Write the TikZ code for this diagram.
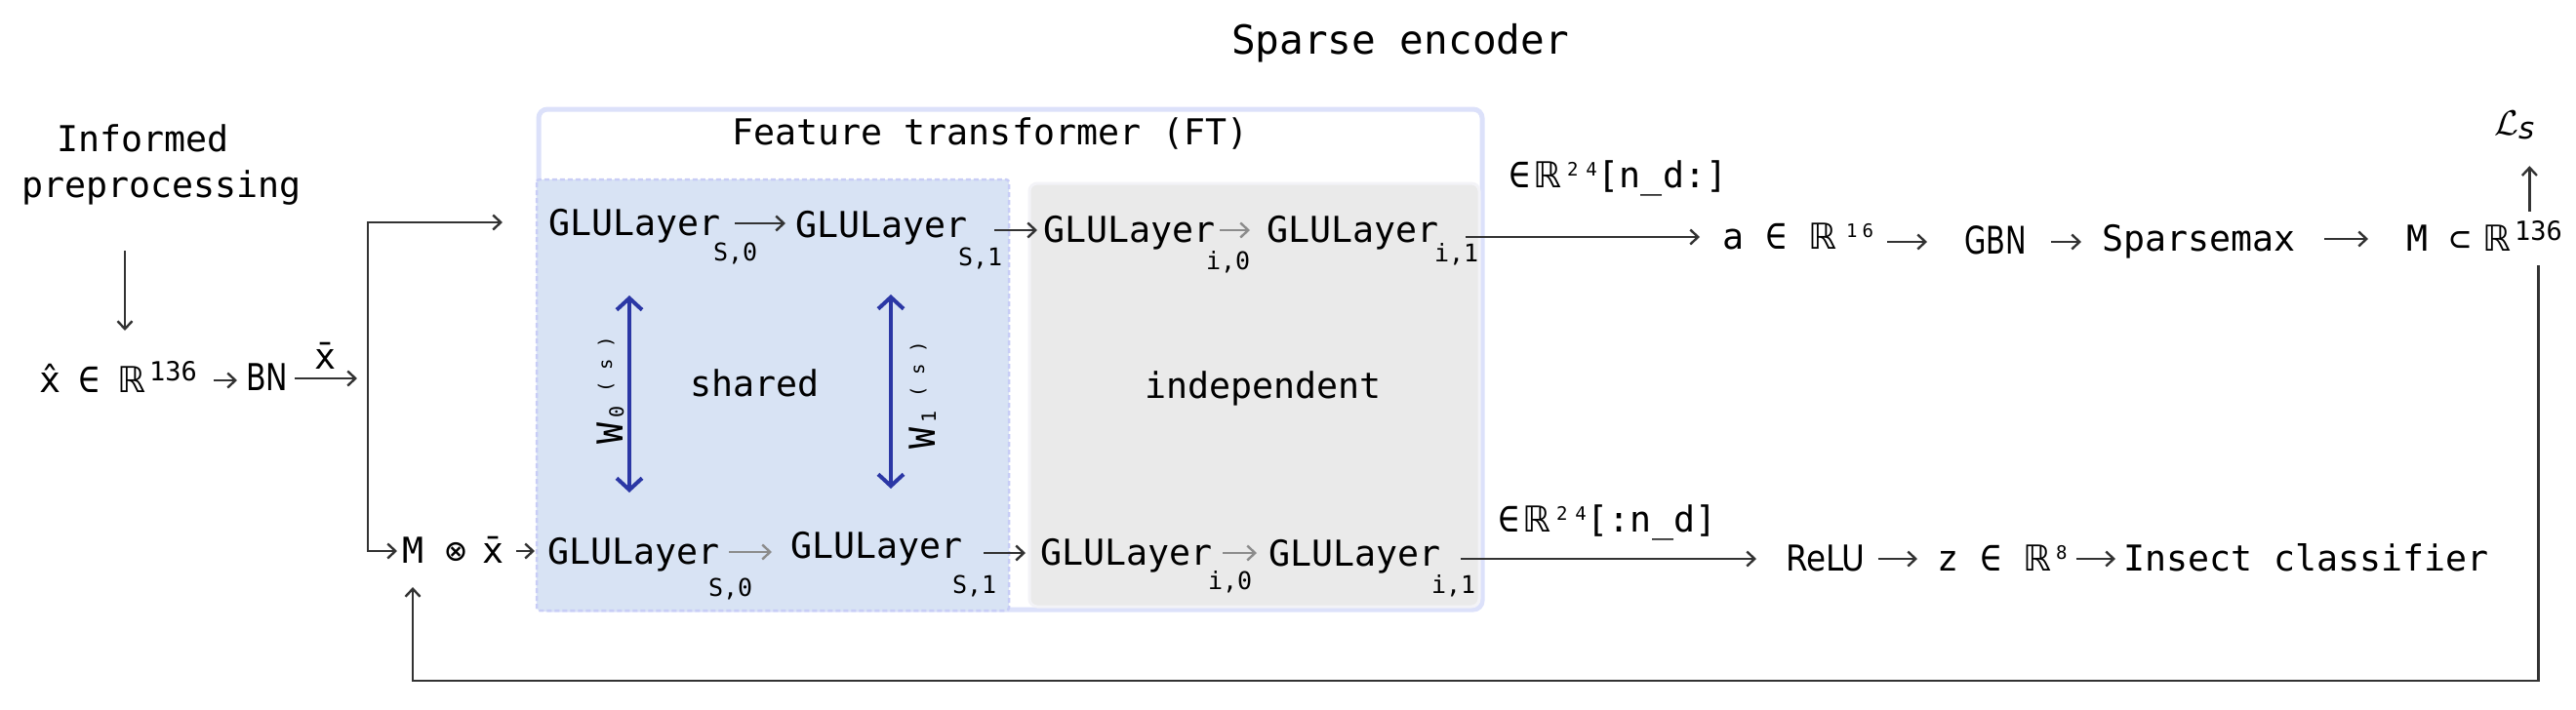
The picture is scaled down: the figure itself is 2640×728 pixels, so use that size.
\documentclass[tikz,border=0pt]{standalone}
\usepackage{fontspec}
\usepackage{graphicx}
\setmainfont{DejaVu Sans Mono}
\newfontfamily\dvs{DejaVu Sans}
\usetikzlibrary{arrows.meta}
\definecolor{ink}{HTML}{333333}
\definecolor{grarr}{HTML}{8C8C8C}
\definecolor{wblue}{HTML}{2B37A5}
\definecolor{ftb}{HTML}{DCE1FA}
\definecolor{shf}{HTML}{D8E3F4}
\definecolor{shb}{HTML}{C8CDF6}
\definecolor{inf}{HTML}{EAEAEA}
\definecolor{inb}{HTML}{F3F3F7}
\newcommand\fm{\fontsize{36.6}{40}\selectfont}
\newcommand\fsub{\fontsize{25}{27}\selectfont}
\newcommand\dsR{{\dvs ℝ}}
\newcommand\supd[2]{\raisebox{#1}{\fontsize{19}{19}\selectfont #2}}
\newcommand\wlab[1]{W\hspace{5pt}\raisebox{-1pt}{\fontsize{20}{20}\selectfont #1}\hspace{8pt}\raisebox{11pt}{\fontsize{19}{19}\selectfont\makebox[23pt]{(}\makebox[23pt]{s}\makebox[23pt]{)}}}
\begin{document}
\begin{tikzpicture}[x=1pt,y=-1pt,
  t/.style={inner sep=0pt, outer sep=0pt, anchor=base west, text height=27pt, text depth=3pt, font=\fm, text=black},
  sb/.style={inner sep=0pt, outer sep=0pt, anchor=base west, font=\fsub, text=black},
  arr/.style={draw=ink, line width=2.4pt, -{Straight Barb[length=8pt,width=15pt]}},
  garr/.style={arr, draw=grarr},
  warr/.style={draw=wblue, line width=4pt, {Straight Barb[length=12pt,width=26pt]}-{Straight Barb[length=12pt,width=26pt]}}]
\useasboundingbox (0,0) rectangle (2640,728);
% containers
\draw[ftb, line width=5pt, rounded corners=9pt, fill=white] (552,112) rectangle (1519,625);
\draw[shb, line width=2.5pt, dash pattern=on 5pt off 3pt, fill=shf, rounded corners=3pt] (550,184) rectangle (1034,626);
\draw[inb, line width=3pt, fill=inf, rounded corners=8pt] (1055,188) rectangle (1516,622);
% titles
\node[t, anchor=base, font=\fontsize{41}{44}\selectfont] (title) at (1435,55) {Sparse encoder};
\node[t, anchor=base] (ft) at (1015,148) {Feature transformer (FT)};
\node[t] (sh) at (707,406) {shared};
\node[t] (ind) at (1173,408) {independent};
% left part
\node[t] (inf) at (58,155) {Informed};
\node[t] (pre) at (22,202) {preprocessing};
\node[t] (xin) at (40,402) {\^{x}\hspace{18pt}∈\hspace{18pt}\dsR\hspace{4pt}\raisebox{12pt}{\fontsize{27}{27}\selectfont 136}};
\node[t] (bn) at (252,400) {\dvs\fontsize{38}{40}\selectfont\scalebox{0.79}[1]{BN}};
\node[t, anchor=base] (xb) at (334,378) {\={x}};
\node[t] (mm) at (412,577) {M};
\node[t] (mx) at (456,577) {⊗\hspace{16pt}\={x}};
\coordinate (ax) at (128,0);
\coordinate (jt) at (377,228);
\coordinate (jb) at (377,565);
\coordinate (fbl) at (0,698);
% GLU layers
\node[t] (g11) at (562,241) {GLULayer}; \node[sb] (s11) at (731,267) {S,0};
\node[t] (g12) at (815,243) {GLULayer}; \node[sb] (s12) at (982,272) {S,1};
\node[t] (g13) at (1069,248) {GLULayer}; \node[sb] (s13) at (1236,276) {i,0};
\node[t] (g14) at (1298,248) {GLULayer}; \node[sb] (s14) at (1470,268) {i,1};
\node[t] (g21) at (561,578) {GLULayer}; \node[sb] (s21) at (726,611) {S,0};
\node[t] (g22) at (810,572) {GLULayer}; \node[sb] (s22) at (976,608) {S,1};
\node[t] (g23) at (1066,579) {GLULayer}; \node[sb] (s23) at (1238,604) {i,0};
\node[t] (g24) at (1300,580) {GLULayer}; \node[sb] (s24) at (1467,608) {i,1};
% shared weights
\coordinate (w0t) at (645,303); \coordinate (w0b) at (645,505);
\coordinate (w1t) at (913,302); \coordinate (w1b) at (913,501);
\draw[warr] (w0t) -- (w0b);
\draw[warr] (w1t) -- (w1b);
\node[inner sep=0pt, rotate=90, anchor=base, font=\fm] (w0) at (638,397) {\wlab{0}};
\node[inner sep=0pt, rotate=90, anchor=base, font=\fm] (w1) at (958,402) {\wlab{1}};
% right part
\node[t] (lab1) at (1546,192) {∈\hspace{3pt}\dsR\hspace{6pt}\supd{12pt}{2}\hspace{8pt}\supd{12pt}{4}\hspace{1pt}[n\_d:]};
\node[t] (lab2) at (1535,545) {∈\hspace{3pt}\dsR\hspace{6pt}\supd{12pt}{2}\hspace{8pt}\supd{12pt}{4}\hspace{1pt}[:n\_d]};
\node[t] (a) at (1765,255) {a ∈ \dsR\hspace{10pt}\supd{12pt}{1}\hspace{5pt}\supd{12pt}{6}};
\node[t] (gbn) at (2013,260) {\dvs\fontsize{39}{40}\selectfont\scalebox{0.74}[1]{GBN}};
\node[t] (sp) at (2154,257) {Sparsemax};
\node[t] (ms) at (2466,257) {M ⊂\hspace{12pt}\dsR};
\node[sb, font=\fontsize{27}{28}\selectfont] (r136) at (2577,246) {136};
\node[inner sep=0pt, anchor=base west, text depth=4pt] (ls) at (2556,138) {\scalebox{3.6}{$\mathcal{L}$}\raisebox{-4pt}{\fontsize{31}{31}\selectfont\dvs\itshape s}};
\node[t] (relu) at (1830,585) {\dvs\scalebox{0.89}[1]{ReLU}};
\node[t] (z) at (1985,585) {z ∈ \dsR\hspace{5pt}\supd{12pt}{8}};
\node[t] (ins) at (2176,585) {Insect classifier};
% connectors
\draw[arr, shorten <=52pt, shorten >=36pt] (pre.south -| ax) -- (xin.north -| ax);
\draw[arr, shorten <=17pt, shorten >=9pt] (xin.east) -- (xin.east -| bn.west);
\draw[arr, shorten <=7pt, shorten >=11pt] (bn.east) -- (bn.east -| jt);
\draw[arr, shorten >=47pt] (jb) -- (jt) -- (jt -| g11.west);
\draw[arr, shorten >=5pt] (jt) -- (jb) -- (mm.west);
\draw[arr, shorten <=13pt, shorten >=13pt] (mx.east) -- (mx.east -| g21.west);
\draw[arr, shorten <=15pt, shorten >=10pt] (g11.east) -- (g11.east -| g12.west);
\draw[arr, shorten <=28pt, shorten >=6pt] (g13.west -| g12.east) -- (g13.west);
\draw[garr, shorten <=5pt, shorten >=17pt] (g13.east) -- (g13.east -| g14.west);
\draw[arr, shorten <=28pt, shorten >=23pt] (a.west -| g14.east) -- (a.west);
\draw[garr, shorten <=10pt, shorten >=19pt] (g21.east) -- (g21.east -| g22.west);
\draw[arr, shorten <=22pt, shorten >=15pt] (g23.west -| g22.east) -- (g23.west);
\draw[garr, shorten <=11pt, shorten >=12pt] (g23.east) -- (g23.east -| g24.west);
\draw[arr, shorten <=21pt, shorten >=30pt] (relu.west -| g24.east) -- (relu.west);
\draw[arr, shorten <=14pt, shorten >=38pt] (gbn.west -| a.east) -- (gbn.west);
\draw[arr, shorten <=25pt, shorten >=21pt] (gbn.east) -- (gbn.east -| sp.west);
\draw[arr, shorten <=30pt, shorten >=39pt] (sp.east) -- (sp.east -| ms.west);
\draw[arr, shorten <=9pt, shorten >=28pt] ([xshift=-9pt]r136.north) -- ([xshift=-9pt]r136.north |- ls.south);
\draw[arr, shorten <=26pt, shorten >=22pt] (r136.south) |- (fbl -| mm.south) -- (mm.south);
\draw[arr, shorten <=13pt, shorten >=20pt] (relu.east) -- (relu.east -| z.west);
\draw[arr, shorten <=9pt, shorten >=8pt] (z.east) -- (z.east -| ins.west);
\end{tikzpicture}
\end{document}
